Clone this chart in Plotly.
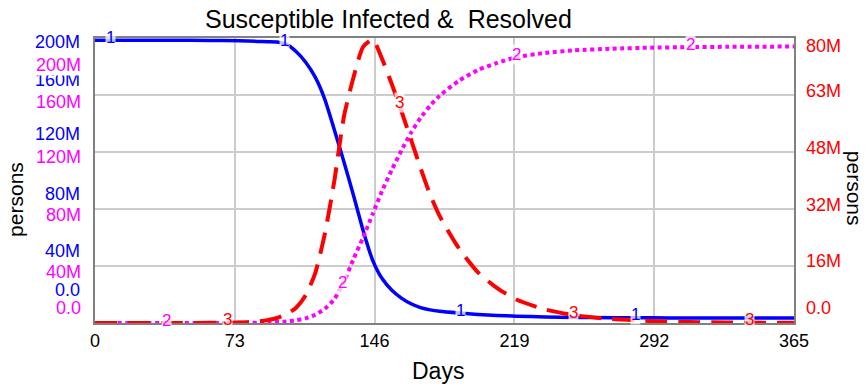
import numpy as np
import plotly.graph_objects as go

# ---------------- data ----------------
DAYS = [0, 20, 40, 60, 75, 85, 90, 95, 100, 105, 110, 115, 120, 125, 130, 135,
        140, 145, 150, 155, 160, 165, 170, 175, 180, 190, 200, 210, 220, 235,
        250, 270, 290, 310, 330, 365]

SUSCEPTIBLE = [198.5, 198.5, 198.4, 198.3, 198.0, 197.6, 197.4, 197.2, 195.5, 190.5,
               183.0, 172.5, 157.0, 135.5, 113.0, 89.5, 65.0, 44.0, 31.0, 23.0,
               17.5, 13.5, 10.8, 9.2, 8.2, 7.0, 6.0, 5.3, 4.8, 4.2,
               3.9, 3.7, 3.6, 3.55, 3.5, 3.5]            # million persons

INFECTED = [0.0, 0.0, 0.01, 0.05, 0.15, 0.4, 0.8, 1.4, 2.5, 4.3,
            7.8, 14.0, 25.0, 40.0, 58.0, 69.0, 77.5, 79.6, 74.0, 67.0,
            59.5, 51.5, 43.5, 36.0, 30.0, 21.0, 14.2, 9.8, 6.6, 3.8,
            2.2, 1.1, 0.55, 0.28, 0.15, 0.05]             # million persons

RESOLVED = [0.0, 0.0, 0.0, 0.02, 0.1, 0.25, 0.4, 0.7, 1.1, 1.9,
            3.3, 5.8, 10.0, 16.8, 29.0, 45.0, 60.0, 76.5, 93.0, 107.5,
            121.0, 133.5, 144.0, 152.5, 159.5, 170.0, 177.5, 182.5, 186.5, 189.5,
            191.3, 192.5, 193.2, 193.6, 193.8, 194.0]     # million persons

X_TICKS = [0, 73, 146, 219, 292, 365]
LEFT_TICK_VALUES = [0, 40, 80, 120, 160, 200]             # million
LEFT_TICK_TEXT = ["0.0", "40M", "80M", "120M", "160M", "200M"]
RIGHT_TICK_VALUES = [0, 16, 32, 48, 64, 80]               # million
RIGHT_TICK_TEXT = ["0.0", "16M", "32M", "48M", "63M", "80M"]

S_LABEL_DAYS = [8, 99, 191, 282]
R_LABEL_DAYS = [37.5, 129, 220, 311]
I_LABEL_DAYS = [69, 159, 250, 341.5]

# ---------------- styling ----------------
FONT = "Liberation Sans, Arial, sans-serif"
BLUE, MAGENTA, RED = "#0000ff", "#ff00ff", "#ff0000"
GRID, FRAME = "#cccccc", "#808080"
BLUE_SHIFT = [33, 15, 15, 18, 15, -4]
MAGENTA_SHIFT = [15, -6, -6, -5, -7, -27]
RED_SHIFT = [15, 5, 4, 4, 4, -8]

M = 1e6
s = np.array(SUSCEPTIBLE) * M
i = np.array(INFECTED) * M
r = np.array(RESOLVED) * M

fig = go.Figure()
fig.add_trace(go.Scatter(x=DAYS, y=s, mode="lines", yaxis="y",
                         line=dict(color=BLUE, width=3.5, shape="spline", smoothing=0.6)))
fig.add_trace(go.Scatter(x=DAYS, y=r, mode="lines", yaxis="y2",
                         line=dict(color=MAGENTA, width=4, dash="4px,3.5px",
                                   shape="spline", smoothing=0.6)))
fig.add_trace(go.Scatter(x=DAYS, y=i, mode="lines", yaxis="y3",
                         line=dict(color=RED, width=4, dash="22px,11px",
                                   shape="spline", smoothing=0.6)))

ann = []
# curve number labels
for days, series, yref, color, txt in [(S_LABEL_DAYS, s, "y", BLUE, "1"),
                                       (R_LABEL_DAYS, r, "y2", MAGENTA, "2"),
                                       (I_LABEL_DAYS, i, "y3", RED, "3")]:
    for d in days:
        ann.append(dict(x=d, y=float(np.interp(d, DAYS, series)), xref="x", yref=yref,
                        text=txt, showarrow=False, yshift=3,
                        font=dict(family=FONT, size=17, color=color),
                        bgcolor="rgba(255,255,255,0.75)", borderpad=0))

# left tick labels (blue, then magenta)
for v, t, sh in zip(LEFT_TICK_VALUES, LEFT_TICK_TEXT, BLUE_SHIFT):
    ann.append(dict(x=0, xref="paper", y=v * M, yref="y", text=t, showarrow=False,
                    xanchor="right", yanchor="middle", xshift=-13, yshift=sh,
                    font=dict(family=FONT, size=18, color=BLUE)))
for v, t, sh in zip(LEFT_TICK_VALUES, LEFT_TICK_TEXT, MAGENTA_SHIFT):
    ann.append(dict(x=0, xref="paper", y=v * M, yref="y2", text=t, showarrow=False,
                    xanchor="right", yanchor="middle", xshift=-13, yshift=sh,
                    bgcolor="white", borderpad=0,
                    font=dict(family=FONT, size=18, color=MAGENTA)))
# right tick labels (red)
for v, t, sh in zip(RIGHT_TICK_VALUES, RIGHT_TICK_TEXT, RED_SHIFT):
    ann.append(dict(x=1, xref="paper", y=v * M, yref="y3", text=t, showarrow=False,
                    xanchor="left", yanchor="middle", xshift=10, yshift=sh,
                    font=dict(family=FONT, size=18, color=RED)))

# titles
ann.append(dict(x=0.4206, y=1.067, xref="paper", yref="paper", showarrow=False,
                text="Susceptible Infected & \u00a0Resolved", xanchor="center", yanchor="middle",
                font=dict(family=FONT, size=25, color="black")))
ann.append(dict(x=0.4907, y=-0.168, xref="paper", yref="paper", showarrow=False,
                text="Days", xanchor="center", yanchor="middle",
                font=dict(family=FONT, size=23, color="black")))
ann.append(dict(x=-0.113, y=0.432, xref="paper", yref="paper", showarrow=False,
                text="persons", textangle=-90, xanchor="center", yanchor="middle",
                font=dict(family=FONT, size=21, color="black")))
ann.append(dict(x=1.086, y=0.474, xref="paper", yref="paper", showarrow=False,
                text="persons", textangle=90, xanchor="center", yanchor="middle",
                font=dict(family=FONT, size=21, color="black")))

fig.update_layout(
    width=865, height=385,
    margin=dict(l=95, r=71, t=38, b=62),
    paper_bgcolor="white", plot_bgcolor="white",
    showlegend=False,
    annotations=ann,
    xaxis=dict(range=[0, 365], tickvals=X_TICKS, showgrid=True, gridcolor=GRID,
               gridwidth=2, zeroline=False, showline=True, linecolor=FRAME,
               linewidth=2, mirror=True, ticks="",
               tickfont=dict(family=FONT, size=18, color="black")),
    yaxis=dict(range=[0, 200 * M], tickvals=[v * M for v in LEFT_TICK_VALUES],
               showticklabels=False, showgrid=True, gridcolor=GRID, gridwidth=2,
               zeroline=False, showline=True, linecolor=FRAME, linewidth=2,
               mirror=True, ticks=""),
    yaxis2=dict(range=[0, 200 * M], overlaying="y", visible=False),
    yaxis3=dict(range=[0, 80 * M], overlaying="y", side="right", visible=False),
)

fig.write_html("out.html")
